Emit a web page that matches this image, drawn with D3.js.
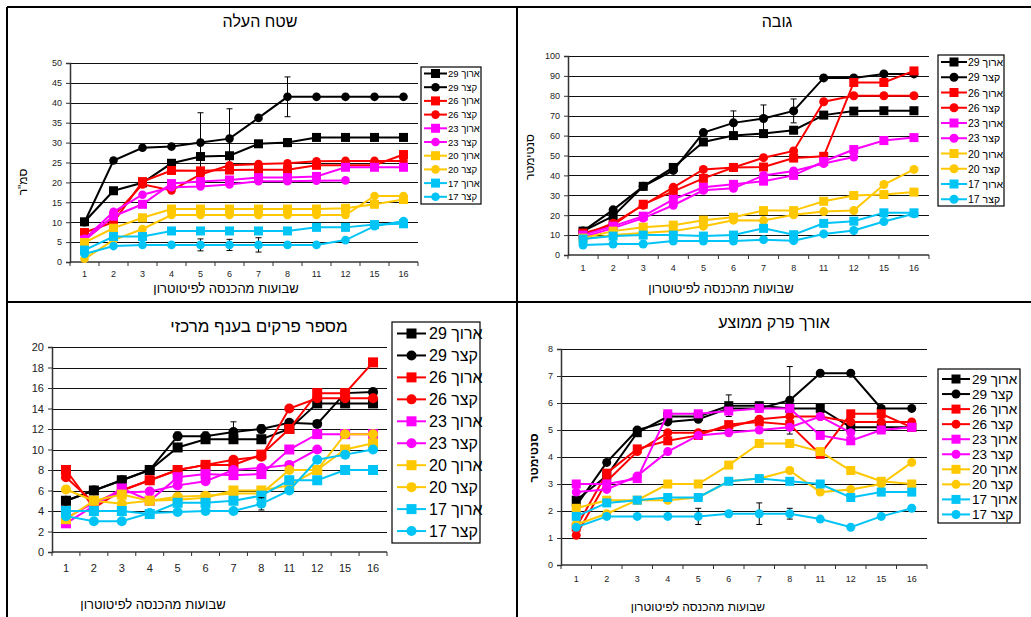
<!DOCTYPE html>
<html><head><meta charset="utf-8">
<script src="https://cdn.jsdelivr.net/npm/d3@7"></script>
<style>body{margin:0;background:#fff}svg{display:block;font-family:"Liberation Sans",Arial,sans-serif}</style>
</head><body><svg id="c" width="1031" height="617"></svg>
<script>
const weeks = ["1","2","3","4","5","6","7","8","11","12","15","16"];
const seriesNames = ["ארוך 29","קצר 29","ארוך 26","קצר 26","ארוך 23","קצר 23","ארוך 20","קצר 20","ארוך 17","קצר 17"];
const seriesShapes = ["square","circle","square","circle","square","circle","square","circle","square","circle"];
const seriesColors = ["#000000","#000000","#FF0000","#FF0000","#FF00FF","#FF00FF","#FFC800","#FFC800","#00C4F5","#00C4F5"];

const leafArea = [
 [10.1,17.9,19.9,24.8,26.5,26.7,29.7,30,31.3,31.3,31.3,31.3],
 [10,25.5,28.7,29,30,31,36.2,41.5,41.5,41.5,41.5,41.5],
 [7.4,10,20.2,23,22.9,23.1,23.2,23.2,24.3,24.3,24.3,27],
 [5.5,11.5,19.5,18,22,24.3,24.6,24.8,25.3,25.4,25.4,25.4],
 [5.5,11.5,14.5,19.7,20.2,20.6,21.2,21.2,21.5,23.8,23.8,23.8],
 [5.8,12.6,16.9,18.8,19,19.5,20.3,20.3,20.4,20.5,null,null],
 [4.9,8.5,11.1,13.3,13.3,13.3,13.3,13.3,13.3,13.5,14.5,15.7],
 [0.8,5.5,8.3,11.8,11.8,11.8,11.8,11.8,11.8,11.8,16.6,16.6],
 [3,6.4,6.4,7.8,7.8,7.8,7.8,7.8,8.7,8.7,9.4,9.6],
 [2,4,4.3,4.3,4.3,4.3,4.3,4.3,4.3,5.5,9,10.3]
];
const leafAreaErr = [[1,"5",7.5],[1,"6",7.5],[1,"8",5],[0,"8",1],[9,"5",1.5],[9,"6",1.4],[9,"7",1.8]];

const plantHeight = [
 [12,19.5,34.5,44,56.8,60,61,62.7,70.3,72.3,72.5,72.5],
 [12,22.7,34.5,42.5,61.5,66.4,68.6,72.4,89,89,91,91],
 [11,15,25.5,32,38.5,44,44.2,48.7,49.6,86.7,86.7,92.5],
 [10,16,25,34,43,44,48.9,52.3,77,80,80,80],
 [10,14.5,19.5,28,34,35.5,37.1,40,47,53,57.5,59],
 [9,13.5,18.5,25,32.5,33.5,40,42.2,46,49.2,null,null],
 [8.5,12,14,15,17.5,19,22.3,22.3,27,29.9,30.4,31.6],
 [8,10,11,12,14.5,17.5,17.3,20.2,21.8,22.3,35.4,43],
 [8,9.5,10,10,9.5,10,13.4,10.2,15.9,17,21.2,21.2],
 [5,5.5,5.5,7,7,7,7.7,7.2,10.6,12.3,16.8,20.7]
];
const plantHeightErr = [[1,"6",6],[1,"7",6.8],[1,"8",6]];

const nodeCount = [
 [5,6,7,8,10.2,11,11,11,12,14.5,14.5,14.5],
 [5,6,7,8,11.3,11.3,11.7,12,12.6,12.5,15.5,15.6],
 [8,4.3,6,7,8,8.5,8.5,9.5,12,15.5,15.5,18.5],
 [7.3,4.8,6,7,8,8.5,9,9.3,14,15,15,15],
 [2.8,4.5,6.2,5,7.3,7.6,7.5,7.6,10,11.5,11.5,11.5],
 [3.3,4.8,5.8,5.9,6.5,6.9,8,8.2,8.5,10,null,null],
 [3.2,5,5.6,5,5.1,5.3,6,6,6.5,8,10,10.6],
 [6.1,5,4.7,5,5.4,5.5,5.7,5.7,8,8,11.5,11.5],
 [4,4,4,3.7,4.8,4.8,5,5.5,7,7,8,8],
 [3.5,3,3,3.8,3.9,4,4,4.7,6,9,9.5,10]
];
const nodeCountErr = [[1,"5",0.4],[1,"6",0.4],[1,"7",1],[1,"8",0.4],[9,"8",0.6]];

const internodeLength = [
 [2.4,3.3,4.9,5.5,5.5,5.9,5.9,5.8,5.8,5.1,5.1,5.1],
 [2.2,3.8,5,5.3,5.4,5.8,5.8,6.1,7.1,7.1,5.8,5.8],
 [1.4,3.4,4.3,4.6,4.8,5.2,5.3,5.2,4.1,5.6,5.6,5.1],
 [1.1,3.1,4.2,4.9,4.9,5.1,5.4,5.5,5.5,5.3,5.3,5.3],
 [3,3,3.2,5.6,5.6,5.7,5.8,5.8,4.8,4.6,5,5.1],
 [2.7,2.8,3.3,4.2,4.8,4.9,5,5.1,5.5,4.9,null,null],
 [2.1,2.4,2.4,3,3,3.7,4.5,4.5,4.2,3.5,3.1,3],
 [1.5,1.9,2.4,2.4,2.5,3.1,3.2,3.5,2.7,2.8,3,3.8],
 [1.8,2.3,2.4,2.5,2.5,3.1,3.2,3.1,3,2.5,2.7,2.7],
 [1.4,1.8,1.8,1.8,1.8,1.9,1.9,1.9,1.7,1.4,1.8,2.1]
];
const internodeErr = [[0,"6",0.4],[1,"8",1.25],[9,"5",0.3],[9,"7",0.4],[9,"8",0.2]];

const titles = ["שטח העלה","גובה","מספר פרקים בענף מרכזי","אורך פרק ממוצע"];
const yTitles = ["סמ\"ר","סנטימטר","","סנטימטר"];
const xTitle = "שבועות מהכנסה לפיטוטרון";
const yMaxes = [50,100,20,8];
const ySteps = [5,10,2,1];

const svg = d3.select("#c");

// panel borders
const borders = svg.append("g").attr("stroke","#000").attr("stroke-width",2).attr("fill","none");
borders.append("path").attr("d","M7,7H1031M7,7V617M517,7V617M7,302H1031");

const layouts = [
 {L:70,R:418,T:63,B:262, tX:260,tY:27,tFs:16, yTX:23,yTY:182,yTFs:12,yTW:"normal", tickFs:9, xLY:277, xTX:226,xTY:293,xTFs:13,
  lg:{x0:421,x1:481,y0:67,y1:204,first:73.5,step:13.7,lx0:424,lx1:447,tx:448,fs:9.5}, sq:9,r:4.3, sw:2},
 {L:568,R:929,T:56,B:255, tX:777,tY:27,tFs:16, yTX:530,yTY:157,yTFs:12,yTW:"normal", tickFs:9, xLY:271, xTX:721,xTY:293,xTFs:13,
  lg:{x0:938,x1:1004,y0:55,y1:206,first:62,step:15.25,lx0:941,lx1:967,tx:968,fs:10.5}, sq:9,r:4.5, sw:2},
 {L:52,R:387,T:347,B:552, tX:259,tY:332,tFs:17, yTX:0,yTY:0,yTFs:12,yTW:"normal", tickFs:11, xLY:572, xTX:153,xTY:609,xTFs:13,
  lg:{x0:392,x1:480,y0:322,y1:543,first:333.5,step:21.95,lx0:397,lx1:426,tx:429,fs:16}, sq:10,r:5, sw:2},
 {L:561,R:927,T:349,B:565, tX:774,tY:328,tFs:16, yTX:534,yTY:458,yTFs:12,yTW:"bold", tickFs:9, xLY:582, xTX:698,xTY:611,xTFs:12,
  lg:{x0:938,x1:1020,y0:369,y1:523,first:379,step:15.05,lx0:942,lx1:970,tx:972,fs:13.5}, sq:9,r:4.5, sw:2}
];

const datasets = [leafArea, plantHeight, nodeCount, internodeLength];
const errsets = [leafAreaErr, plantHeightErr, nodeCountErr, internodeErr];

function marker(g, shape, cx, cy, color, sq, r){
  if(shape==="square"){
    g.append("rect").attr("x",cx-sq/2).attr("y",cy-sq/2).attr("width",sq).attr("height",sq).attr("fill",color);
  } else {
    g.append("circle").attr("cx",cx).attr("cy",cy).attr("r",r).attr("fill",color);
  }
}

layouts.forEach((lay,pi)=>{
  const data = datasets[pi];
  const g = svg.append("g");
  const x = d3.scaleBand().domain(weeks).range([lay.L, lay.R]).padding(0);
  const y = d3.scaleLinear().domain([0, yMaxes[pi]]).range([lay.B, lay.T]);
  const yt = d3.range(0, yMaxes[pi]+ySteps[pi]/2, ySteps[pi]);

  // gridlines
  g.append("g").selectAll("line").data(yt.filter(v=>v>0)).join("line")
    .attr("x1",lay.L).attr("x2",lay.R).attr("y1",d=>Math.round(y(d))+0.5).attr("y2",d=>Math.round(y(d))+0.5)
    .attr("stroke","#111").attr("stroke-width",1);

  // y axis
  const ya = g.append("g").attr("transform",`translate(${lay.L},0)`)
    .call(d3.axisLeft(y).tickValues(yt).tickSize(4).tickPadding(4).tickFormat(d3.format("d")));
  ya.select(".domain").attr("stroke","#333").attr("stroke-width",1.5);
  ya.selectAll(".tick line").attr("stroke","#333");
  ya.selectAll("text").attr("font-size",lay.tickFs).attr("fill","#222").attr("font-family","Liberation Sans, Arial, sans-serif");

  // x axis
  const xa = g.append("g").attr("transform",`translate(0,${lay.B})`)
    .call(d3.axisBottom(x).tickSize(0).tickPadding(lay.xLY-lay.B-lay.tickFs*0.75));
  xa.select(".domain").remove();
  xa.selectAll("text").attr("font-size",lay.tickFs).attr("fill","#222").attr("font-family","Liberation Sans, Arial, sans-serif");
  g.append("line").attr("x1",lay.L).attr("x2",lay.R).attr("y1",lay.B).attr("y2",lay.B).attr("stroke","#333").attr("stroke-width",1.5);
  g.append("g").selectAll("line").data(weeks.concat(["__end"])).join("line")
    .attr("x1",d=>d==="__end"?lay.R:x(d)).attr("x2",d=>d==="__end"?lay.R:x(d))
    .attr("y1",lay.B).attr("y2",lay.B+4).attr("stroke","#333");

  // series
  data.forEach((vals,si)=>{
    const sg = g.append("g");
    const col = seriesColors[si];
    const pts = weeks.map((w,i)=>({w,v:vals[i]}));
    const line = d3.line().defined(d=>d.v!=null).x(d=>x(d.w)+x.bandwidth()/2).y(d=>y(d.v));
    sg.append("path").attr("d",line(pts)).attr("fill","none").attr("stroke",col).attr("stroke-width",lay.sw);
    errsets[pi].filter(e=>e[0]===si).forEach(e=>{
      const i = weeks.indexOf(e[1]); const v = vals[i];
      const cx = x(e[1])+x.bandwidth()/2;
      const eg = sg.append("g").attr("stroke","#000").attr("stroke-width",1);
      eg.append("line").attr("x1",cx).attr("x2",cx).attr("y1",y(v+e[2])).attr("y2",y(v-e[2]));
      eg.append("line").attr("x1",cx-3).attr("x2",cx+3).attr("y1",y(v+e[2])).attr("y2",y(v+e[2]));
      eg.append("line").attr("x1",cx-3).attr("x2",cx+3).attr("y1",y(v-e[2])).attr("y2",y(v-e[2]));
    });
    pts.filter(d=>d.v!=null).forEach(d=>marker(sg, seriesShapes[si], x(d.w)+x.bandwidth()/2, y(d.v), col, lay.sq, lay.r));
  });

  // titles
  g.append("text").attr("x",lay.tX).attr("y",lay.tY).attr("text-anchor","middle").attr("font-size",lay.tFs).attr("fill","#000").text(titles[pi]);
  g.append("text").attr("x",lay.xTX).attr("y",lay.xTY).attr("text-anchor","middle").attr("font-size",lay.xTFs).attr("fill","#000").text(xTitle);
  if(yTitles[pi]) g.append("text").attr("transform",`translate(${lay.yTX},${lay.yTY}) rotate(-90)`).attr("text-anchor","middle")
    .attr("direction","rtl").attr("dominant-baseline","central").attr("font-size",lay.yTFs).attr("font-weight",lay.yTW).attr("fill","#000").text(yTitles[pi]);

  // legend
  const lg = lay.lg;
  const leg = g.append("g");
  leg.append("rect").attr("x",lg.x0).attr("y",lg.y0).attr("width",lg.x1-lg.x0).attr("height",lg.y1-lg.y0)
    .attr("fill","#fff").attr("stroke","#000").attr("stroke-width",1.2);
  seriesNames.forEach((n,si)=>{
    const cy = lg.first + si*lg.step;
    leg.append("line").attr("x1",lg.lx0).attr("x2",lg.lx1).attr("y1",cy).attr("y2",cy).attr("stroke",seriesColors[si]).attr("stroke-width",lay.sw);
    marker(leg, seriesShapes[si], (lg.lx0+lg.lx1)/2, cy, seriesColors[si], lay.sq, lay.r);
    leg.append("text").attr("x",lg.tx).attr("y",cy).attr("direction","rtl").attr("text-anchor","end")
      .attr("dominant-baseline","central").attr("font-size",lg.fs).attr("fill","#000").text(n);
  });
});
</script></body></html>
